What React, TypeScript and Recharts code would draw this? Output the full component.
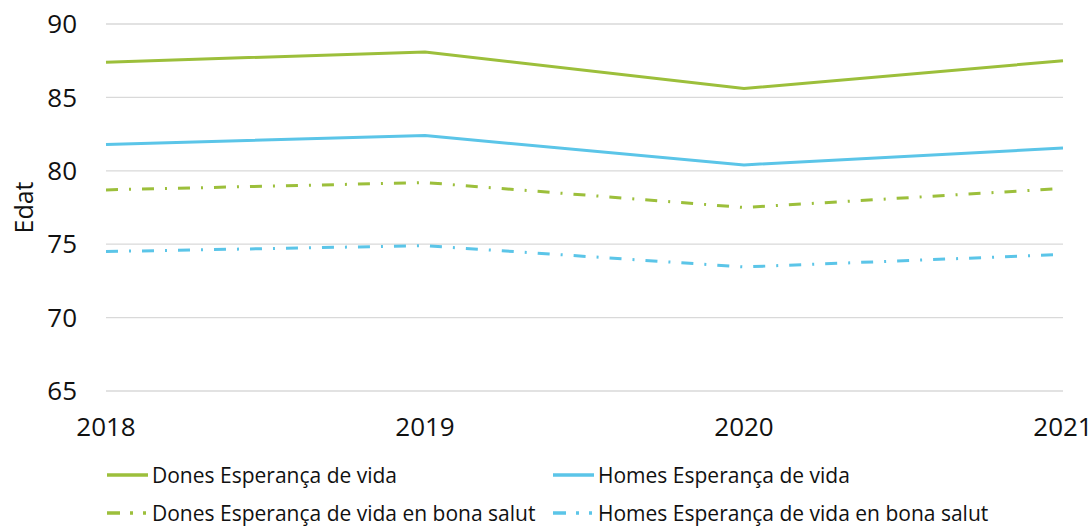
import React from "react";
import {
  LineChart,
  Line,
  XAxis,
  YAxis,
  CartesianGrid,
  Legend,
} from "recharts";

const years = ["2018", "2019", "2020", "2021"];
const donesVida = [87.4, 88.1, 85.6, 87.5];
const homesVida = [81.8, 82.4, 80.4, 81.55];
const donesSalut = [78.7, 79.2, 77.5, 78.8];
const homesSalut = [74.5, 74.9, 73.45, 74.3];
const yTicks = [65, 70, 75, 80, 85, 90];

const GREEN = "#9cbf3b";
const BLUE = "#5bc5e8";
const DASH = "12 11 2 11";
const FONT = "'Open Sans', 'Noto Sans', sans-serif";

const data = years.map((y, i) => ({
  year: y,
  donesVida: donesVida[i],
  homesVida: homesVida[i],
  donesSalut: donesSalut[i],
  homesSalut: homesSalut[i],
}));

const legendItems = [
  { name: "Dones Esperança de vida", color: GREEN, dashed: false },
  { name: "Homes Esperança de vida", color: BLUE, dashed: false },
  { name: "Dones Esperança de vida en bona salut", color: GREEN, dashed: true },
  { name: "Homes Esperança de vida en bona salut", color: BLUE, dashed: true },
];

const LegendBox = () => (
  <div
    style={{
      display: "grid",
      gridTemplateColumns: "446px 446px",
      rowGap: 12,
      paddingLeft: 107,
      paddingTop: 11,
      fontFamily: FONT,
      fontSize: 21,
      lineHeight: "26px",
      color: "#111",
    }}
  >
    {legendItems.map((it) => (
      <div
        key={it.name}
        style={{ display: "flex", alignItems: "center", height: 26 }}
      >
        <svg width={45} height={10}>
          <line
            x1={0}
            y1={5}
            x2={41}
            y2={5}
            stroke={it.color}
            strokeWidth={3.5}
            strokeDasharray={it.dashed ? "13 10 3 10 3 20" : undefined}
          />
        </svg>
        <span style={{ whiteSpace: "nowrap" }}>{it.name}</span>
      </div>
    ))}
  </div>
);

export default function App() {
  return (
    <div style={{ width: 1092, height: 526, position: "relative" }}>
      <style>{`body{margin:0}`}</style>
      <LineChart
        width={1092}
        height={526}
        data={data}
        margin={{ top: 24, right: 29, left: 0, bottom: 0 }}
      >
        <CartesianGrid vertical={false} stroke="#d9d9d9" strokeWidth={1.3} />
        <XAxis
          dataKey="year"
          axisLine={false}
          tickLine={false}
          tickSize={0}
          tickMargin={27}
          height={60}
          interval={0}
          tick={{ fontSize: 26, fill: "#111", fontFamily: FONT }}
        />
        <YAxis
          domain={[65, 90]}
          ticks={yTicks}
          axisLine={false}
          tickLine={false}
          tickSize={0}
          tickMargin={29}
          width={106}
          tick={{ fontSize: 26, fill: "#111", fontFamily: FONT }}
          label={{
            value: "Edat",
            angle: -90,
            position: "insideLeft",
            offset: 24,
            style: { fontSize: 25, fill: "#111", fontFamily: FONT, textAnchor: "middle" },
          }}
        />
        <Legend
          verticalAlign="bottom"
          content={<LegendBox />}
          wrapperStyle={{ height: 75, left: 0, width: 1092 }}
        />
        <Line
          dataKey="donesVida"
          stroke={GREEN}
          strokeWidth={3}
          dot={false}
          isAnimationActive={false}
        />
        <Line
          dataKey="homesVida"
          stroke={BLUE}
          strokeWidth={3}
          dot={false}
          isAnimationActive={false}
        />
        <Line
          dataKey="donesSalut"
          stroke={GREEN}
          strokeWidth={3}
          strokeDasharray={DASH}
          dot={false}
          isAnimationActive={false}
        />
        <Line
          dataKey="homesSalut"
          stroke={BLUE}
          strokeWidth={3}
          strokeDasharray={DASH}
          dot={false}
          isAnimationActive={false}
        />
      </LineChart>
    </div>
  );
}
